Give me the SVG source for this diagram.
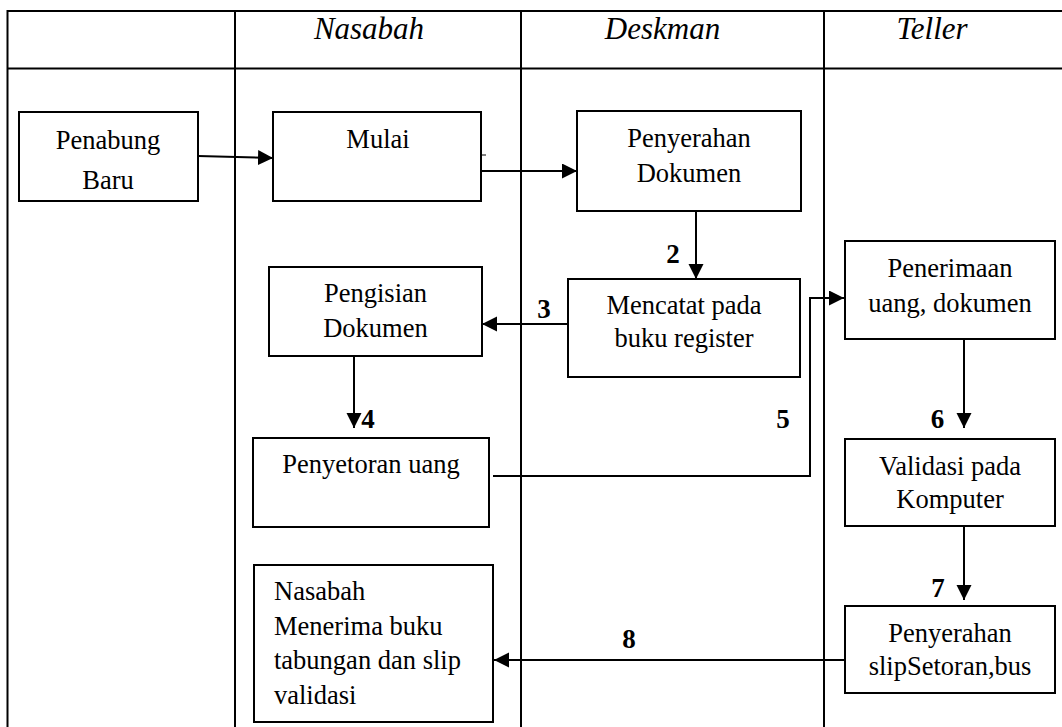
<svg xmlns="http://www.w3.org/2000/svg" width="1062" height="727" viewBox="0 0 1062 727">
<defs>
<marker id="ah" markerUnits="userSpaceOnUse" markerWidth="16" markerHeight="16" refX="15" refY="7.5" orient="auto">
<path d="M0,0 L15,7.5 L0,15 z" fill="#000"/>
</marker>
<style>
.frame{stroke:#000;stroke-width:2;fill:none}
.box{stroke:#000;stroke-width:2;fill:#fff}
.con{stroke:#000;stroke-width:2;fill:none;marker-end:url(#ah)}
text{font-family:'Liberation Serif',Tinos,'Times New Roman','DejaVu Serif',serif;fill:#000}
.hd{font-style:italic;font-size:31px;text-anchor:middle}
.t{font-size:26.5px;text-anchor:middle}
.tl{font-size:26.5px}
.n{font-size:27px;font-weight:bold;text-anchor:middle}
</style>
</defs>
<rect width="1062" height="727" fill="#fff"/>
<g id="lanes">
<line class="frame" x1="7.5" y1="11" x2="1062" y2="11"/>
<line class="frame" x1="7.5" y1="68.5" x2="1062" y2="68.5"/>
<line class="frame" x1="7.5" y1="10" x2="7.5" y2="727"/>
<line class="frame" x1="235" y1="10" x2="235" y2="727"/>
<line class="frame" x1="521" y1="10" x2="521" y2="727"/>
<line class="frame" x1="824" y1="10" x2="824" y2="727"/>
<text class="hd" x="369" y="39">Nasabah</text>
<text class="hd" x="662.5" y="39">Deskman</text>
<text class="hd" x="932" y="39">Teller</text>
</g>
<g id="connectors">
<path class="con" d="M198,156 L273,158"/>
<line x1="482" y1="155" x2="486" y2="155" stroke="#000" stroke-width="1"/>
<path class="con" d="M481,171 L577,171"/>
<path class="con" d="M696,211 L696,279"/>
<path class="con" d="M568,324 L482,324"/>
<path class="con" d="M354,356 L354,428"/>
<path class="con" d="M493,476 H810 V298 H844"/>
<path class="con" d="M964,339 V428"/>
<path class="con" d="M964,526 V600"/>
<path class="con" d="M845,660 H494"/>
<text class="n" x="673" y="263">2</text>
<text class="n" x="544" y="318">3</text>
<text class="n" x="368" y="428">4</text>
<text class="n" x="783" y="428">5</text>
<text class="n" x="937.5" y="428">6</text>
<text class="n" x="938" y="597">7</text>
<text class="n" x="629" y="648">8</text>
</g>
<g id="penabung">
<rect class="box" x="19" y="112" width="179" height="89"/>
<text class="t" x="108" y="149">Penabung</text>
<text class="t" x="108" y="189">Baru</text>
</g>
<g id="mulai">
<rect class="box" x="273" y="112" width="208" height="89"/>
<text class="t" x="378" y="148">Mulai</text>
</g>
<g id="penyerahan-dokumen">
<rect class="box" x="577" y="111" width="224" height="100"/>
<text class="t" x="689" y="147">Penyerahan</text>
<text class="t" x="689" y="182">Dokumen</text>
</g>
<g id="mencatat">
<rect class="box" x="568" y="279" width="232" height="98"/>
<text class="t" x="684" y="314">Mencatat pada</text>
<text class="t" x="684" y="347">buku register</text>
</g>
<g id="pengisian">
<rect class="box" x="269" y="267" width="213" height="89"/>
<text class="t" x="375.5" y="302">Pengisian</text>
<text class="t" x="375.5" y="337">Dokumen</text>
</g>
<g id="penyetoran">
<rect class="box" x="253" y="438" width="236" height="89"/>
<text class="t" x="371" y="473">Penyetoran uang</text>
</g>
<g id="penerimaan">
<rect class="box" x="845" y="241" width="210" height="98"/>
<text class="t" x="950" y="277">Penerimaan</text>
<text class="t" x="950" y="312">uang, dokumen</text>
</g>
<g id="validasi">
<rect class="box" x="845" y="439" width="210" height="87"/>
<text class="t" x="950" y="475">Validasi pada</text>
<text class="t" x="950" y="508">Komputer</text>
</g>
<g id="penyerahan-slip">
<rect class="box" x="845" y="606" width="210" height="87"/>
<text class="t" x="950" y="642">Penyerahan</text>
<text class="t" x="950" y="675">slipSetoran,bus</text>
</g>
<g id="nasabah-menerima">
<rect class="box" x="254" y="565" width="239" height="157"/>
<text class="tl" x="274" y="600">Nasabah</text>
<text class="tl" x="274" y="634.5">Menerima buku</text>
<text class="tl" x="274" y="669">tabungan dan slip</text>
<text class="tl" x="274" y="703.5">validasi</text>
</g>
</svg>
